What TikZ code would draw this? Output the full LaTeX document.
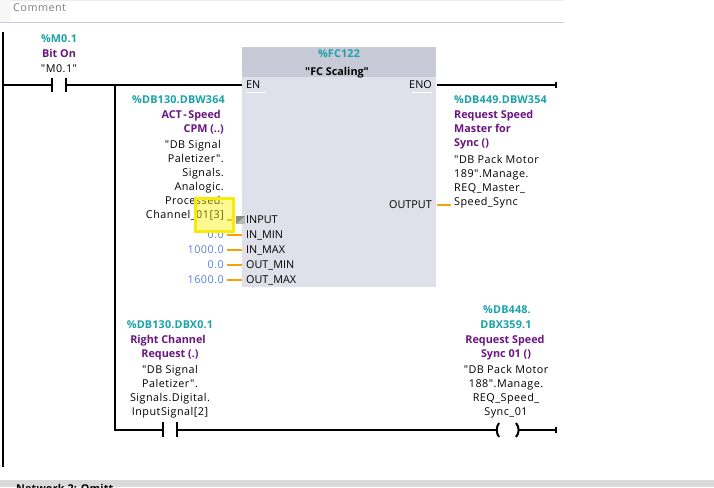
\documentclass[tikz,border=0pt]{standalone}
\usepackage{fontspec}
\setmainfont{Open Sans}[Ligatures=TeXOff]
\newfontfamily\spacedf{Open Sans}[Ligatures=TeXOff,LetterSpace=4.5]
\newfontfamily\addrf{Open Sans}[Ligatures=TeXOff,LetterSpace=1.5]
\definecolor{addr}{HTML}{1AA3A8}
\definecolor{sym}{HTML}{6A1580}
\definecolor{val}{HTML}{5585D8}
\definecolor{wireo}{HTML}{F9A100}
\definecolor{bbody}{HTML}{DFE0E9}
\definecolor{bhead}{HTML}{C9CAD7}
\definecolor{lav}{HTML}{CCC6EA}
\tikzset{
 base/.style={inner sep=0pt,text height=10pt,text depth=2pt},
 wire/.style={line width=2pt,black},
 owire/.style={line width=2pt,wireo},
 txt/.style={base,font=\fontsize{10.8}{12}\selectfont\spacedf,text=black},
 addrt/.style={base,text=addr,font=\fontsize{10.8}{12}\selectfont\addrf\bfseries},
 symt/.style={base,text=sym,font=\fontsize{10.8}{12}\selectfont\bfseries},
 valt/.style={txt,text=val,anchor=east},
 pin/.style={base,anchor=west,font=\fontsize{10.8}{12}\selectfont},
 pinr/.style={base,anchor=east,font=\fontsize{10.8}{12}\selectfont},
}
\begin{document}
\begin{tikzpicture}[x=1pt,y=-1pt]
\useasboundingbox (0,0) rectangle (714,487);
\fill[white] (0,0) rectangle (714,487);
% header
\fill[black!7] (0,0) rectangle (564,1);
\fill[black!3] (0,0) rectangle (10,22);
\draw[lav,line width=1pt] (0,22.5) -- (564,22.5);
\node[txt,anchor=west,text=black!50] (cmt) at (13,8) {Comment};
% footer
\fill[black!15] (0,480) rectangle (714,487);
\begin{scope}
\clip (0,480) rectangle (714,487);
\node[base,anchor=west,font=\fontsize{10.8}{12}\selectfont\bfseries\addrf] (net) at (16,488.5) {Network 2: Omitt};
\end{scope}
% block
\node[fill=bbody,draw=none,minimum width=194pt,minimum height=240pt,anchor=north west,inner sep=0pt] (blk) at (242,47) {};
\fill[bhead] (242,47) rectangle (436,77);
\node[addrt] (fc) at (339,54) {\%FC122};
\node[base,font=\fontsize{10.8}{12}\selectfont\bfseries] (fcn) at (337,71) {"FC Scaling"};
% pins
\node[pin] (en) at (246,84.5) {EN};
\node[pinr] (eno) at (432,84.5) {ENO};
\fill[white] (246,92) rectangle (266,92.7);
\fill[white] (412,92) rectangle (432,92.7);
\node[pin] (inp) at (246,219) {INPUT};
\node[pin] (imin) at (246,234.5) {IN\_MIN};
\node[pin] (imax) at (246,249.5) {IN\_MAX};
\node[pin] (omin) at (246,264.5) {OUT\_MIN};
\node[pin] (omax) at (246,279.5) {OUT\_MAX};
\node[pinr] (outp) at (432,204) {OUTPUT};
% rail and main wires
\coordinate (railt) at (3,32);
\coordinate (railb) at (3,467);
\draw[line width=2pt] (railt) -- (railb);
\coordinate (c1l) at (52,85);
\coordinate (c1r) at (66,85);
\coordinate (j) at (115,85);
\coordinate (j2) at (115,430);
\coordinate (c2l) at (163,430);
\coordinate (c2r) at (177,430);
\coordinate (coil) at (497,430);
\coordinate (endb) at (556,430);
\coordinate (endt) at (556,85);
\draw[wire] (3,85) -- (c1l);
\draw[wire] (52,77.5) -- (52,92);
\draw[wire] (66,77.5) -- (66,92);
\draw[wire] (c1r) -- (242,85);
\draw[wire] (j) -- (j2) -- (c2l);
\draw[wire] (163,422) -- (163,437);
\draw[wire] (177,422) -- (177,437);
\draw[wire] (c2r) -- (coil);
\draw[line width=2pt] (499,423) .. controls (496,427) and (496,433) .. (499,437);
\draw[line width=2pt] (516,423) .. controls (519.5,427) and (519.5,433) .. (516,437);
\draw[wire] (518,430) -- (endb);
\draw[line width=1.6pt] (endb)+(0,-3) -- +(0,3);
\draw[wire] (436.5,85) -- (endt);
\draw[line width=1.6pt] (endt)+(0,-3) -- +(0,3);
% orange
\foreach \y in {235,250,265,280} \draw[owire] (227,\y) -- (242,\y);
\draw[owire] (436.5,204.5) -- (451,204.5);
\draw[owire] (227,220) -- (232,220);
% input flag
\fill[black!28] (236,216) rectangle (245,224);
\fill[black!45] (236,224) -- (245,216) -- (236,216) -- cycle;
% contact 1 labels
\node[addrt] (a1) at (59,39) {\%M0.1};
\node[symt] (s1) at (59,54) {Bit On};
\node[txt] (v1) at (59,69) {"M0.1"};
% left operand
\node[addrt,anchor=east] (a2) at (225,99) {\%DB130.DBW364};
\node[symt,anchor=east] (s2a) at (221,114) {ACT\kern1.5pt-\kern1.5pt Speed};
\node[symt,anchor=east] (s2b) at (224,128) {CPM (..)};
\foreach \t/\y/\xx in {{"DB Signal}/144/221,{Paletizer".}/158/224,{Signals.}/172/224,{Analogic.}/186/224,{Processed.}/200/224,{Channel\_01[3]}/214/224}
  \node[txt,anchor=east] at (\xx,\y) {\t};
% constants
\node[valt] (c1) at (224,234.5) {0.0};
\node[valt] (c2) at (224,249.5) {1000.0};
\node[valt] (c3) at (224,264.5) {0.0};
\node[valt] (c4) at (224,279.5) {1600.0};
% yellow highlight
\fill[yellow,opacity=.42] (195.5,198.5) rectangle (233.5,231.5);
\draw[yellow!97!black,line width=2.8pt] (195.5,198.5) rectangle (233.5,231.5);
% output operand
\node[addrt,anchor=west] (a3) at (454,99) {\%DB449.DBW354};
\node[symt,anchor=west] (s3a) at (454,114) {Request Speed};
\node[symt,anchor=west] (s3b) at (454,128) {Master for};
\node[symt,anchor=west] (s3c) at (454,142) {Sync ()};
\foreach \t/\y in {{"DB Pack Motor}/159,{189".Manage.}/173,{REQ\_Master\_}/187,{Speed\_Sync}/201}
  \node[txt,anchor=west] at (454,\y) {\t};
% contact 2
\node[addrt] (a4) at (170,324) {\%DB130.DBX0.1};
\node[symt] (s4a) at (168,339) {Right Channel};
\node[symt] (s4b) at (170,353) {Request (.)};
\foreach \t/\y in {{"DB Signal}/369,{Paletizer".}/383,{Signals.Digital.}/397,{InputSignal[2]}/411}
  \node[txt] at (170,\y) {\t};
% coil
\node[addrt] (a5) at (507,309) {\%DB448.};
\node[addrt] (a5b) at (506,324) {DBX359.1};
\node[symt] (s5a) at (505,339) {Request Speed};
\node[symt] (s5b) at (506,353) {Sync 01 ()};
\foreach \t/\y in {{"DB Pack Motor}/369,{188".Manage.}/383,{REQ\_Speed\_}/397,{Sync\_01}/411}
  \node[txt] at (506,\y) {\t};
\end{tikzpicture}
\end{document}
